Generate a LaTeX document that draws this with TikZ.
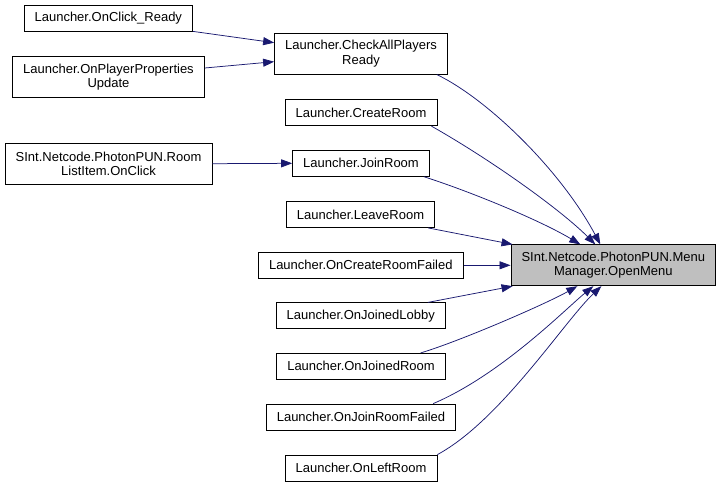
\documentclass[tikz,border=0pt]{standalone}
\usepackage{fontspec}
\setmainfont{Liberation Sans}
\usepackage{tikz}
\usetikzlibrary{arrows.meta}
\definecolor{EdgeBlue}{RGB}{25,25,112}
\definecolor{FocusGray}{RGB}{191,191,191}

\begin{document}
\begin{tikzpicture}[x=1pt, y=-1pt,
    fnbox/.style={draw, line width=0.8pt, rectangle, align=center,
      inner xsep=10.6pt, inner ysep=0pt, minimum height=26pt,
      font=\fontsize{13}{14.5}\selectfont},
    fnbox2/.style={fnbox, minimum height=41pt},
    focus/.style={fnbox2, fill=FocusGray},
    call/.style={EdgeBlue, line width=0.75pt, -{Triangle[length=11pt, width=8pt]}}]
    \useasboundingbox (0,0) rectangle (721,487);

    % Callee
    \node [focus] (open) at (613.3,265.3) {SInt.Netcode.PhotonPUN.Menu\\Manager.OpenMenu};

    % Direct callers
    \node [fnbox2] (check)  at (361,53.7)  {Launcher.CheckAllPlayers\\Ready};
    \node [fnbox]  (create) at (361,112.7) {Launcher.CreateRoom};
    \node [fnbox]  (join)   at (361,163.3) {Launcher.JoinRoom};
    \node [fnbox]  (leave)  at (360.5,214.5) {Launcher.LeaveRoom};
    \node [fnbox]  (crfail) at (360.8,265.3) {Launcher.OnCreateRoomFailed};
    \node [fnbox]  (lobby)  at (360.8,315.8) {Launcher.OnJoinedLobby};
    \node [fnbox]  (joined) at (361,366.3) {Launcher.OnJoinedRoom};
    \node [fnbox]  (jrfail) at (361,417)   {Launcher.OnJoinRoomFailed};
    \node [fnbox]  (left)   at (361,468)   {Launcher.OnLeftRoom};

    % Second level
    \node [fnbox]  (ready) at (108.3,18)   {Launcher.OnClick\_Ready};
    \node [fnbox2] (ppu)   at (108.5,77)   {Launcher.OnPlayerProperties\\Update};
    \node [fnbox2] (rli)   at (108.5,163.7) {SInt.Netcode.PhotonPUN.Room\\ListItem.OnClick};

    % Edges
    \draw [call] (ready.south east) -- ([yshift=11pt]check.west);
    \draw [call] ([yshift=9pt]ppu.east) -- ([yshift=-8pt]check.west);
    \draw [call] (rli.east) -- (join.west);

    \draw [call] ([xshift=-11pt]check.south east) .. controls +(50,24) and +(-40,-75) .. ([xshift=-13pt]open.north);
    \draw [call] ([xshift=-6pt]create.south east) .. controls +(60,34) and +(-35,-35) .. ([xshift=-18pt]open.north);
    \draw [call] ([xshift=-6pt]join.south east) .. controls +(47,15) and +(-40,-24) .. ([xshift=-33pt]open.north);
    \draw [call] ([xshift=-7pt]leave.south east) -- ([xshift=2pt]open.north west);
    \draw [call] (crfail.east) -- (open.west);
    \draw [call] ([xshift=-18pt]lobby.north east) -- ([xshift=2pt]open.south west);
    \draw [call] ([xshift=-25pt]joined.north east) .. controls +(40,-12) and +(-32,18) .. ([xshift=-36pt]open.south);
    \draw [call] ([xshift=-23pt]jrfail.north east) .. controls +(68,-29) and +(-28,23) .. ([xshift=-20pt]open.south);
    \draw [call] (left.north east) .. controls +(63,-34) and +(-37,35) .. ([xshift=-12pt]open.south);
\end{tikzpicture}
\end{document}
